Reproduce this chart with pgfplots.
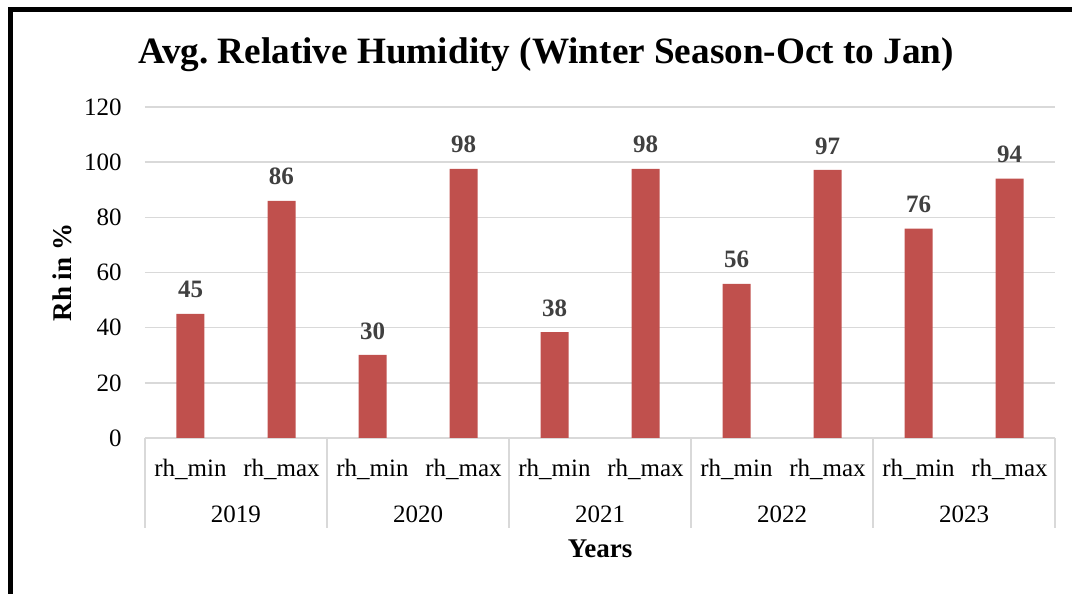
\documentclass[border=0pt]{standalone}
\usepackage{pgfplots}
\pgfplotsset{compat=1.18}
\usepackage{fontspec}
\setmainfont{Liberation Serif}
\definecolor{barred}{HTML}{C0504D}
\definecolor{gridgray}{HTML}{D9D9D9}
\definecolor{lblgray}{HTML}{404040}
\begin{document}
\begin{tikzpicture}
\useasboundingbox (0,0) rectangle (536pt,297pt);
\draw[line width=2.5pt, line join=miter] (5.3pt,-10pt) -- (5.3pt,292pt) -- (560pt,292pt);
\begin{axis}[
  at={(72.5pt,78pt)}, anchor=south west,
  scale only axis, width=455pt, height=165.5pt,
  /pgf/number format/assume math mode=true,
  ybar, bar width=14pt,
  xmin=-0.5, xmax=9.5, ymin=0, ymax=120,
  ytick={0,20,...,120},
  xtick={0,...,9},
  xticklabels={rh\_min,rh\_max,rh\_min,rh\_max,rh\_min,rh\_max,rh\_min,rh\_max,rh\_min,rh\_max},
  axis line style={draw=none},
  major tick length=0pt,
  ymajorgrids, grid style={gridgray, line width=0.75pt},
  ticklabel style={font=\fontsize{12.5}{14}\selectfont, text=black},
  yticklabel style={anchor=east, inner sep=0pt, xshift=-11.5pt},
  xticklabel style={anchor=base, inner sep=0pt, yshift=-19.5pt},
  title={Avg.\ Relative Humidity (Winter Season-Oct to Jan)},
  every axis title/.style={font=\bfseries\fontsize{18.6}{22}\selectfont, at={([xshift=-27pt,yshift=26pt]axis description cs:0.5,1)}, anchor=center},
  xlabel={Years},
  xlabel style={font=\bfseries\fontsize{13.5}{16}\selectfont, at={([yshift=-55.5pt]axis description cs:0.5,0)}, anchor=center},
  ylabel={Rh in \%},
  ylabel style={font=\bfseries\fontsize{13.5}{16}\selectfont, at={([xshift=-41.5pt]axis description cs:0,0.5)}, anchor=center},
  nodes near coords,
  nodes near coords style={font=\bfseries\fontsize{12.5}{14}\selectfont, text=lblgray, anchor=center, yshift=12pt, /pgf/number format/fixed, /pgf/number format/precision=0},
  clip=false,
]
\addplot[fill=barred, draw=none] coordinates {
  (0,45) (1,86) (2,30.1) (3,97.6) (4,38.4) (5,97.6) (6,55.9) (7,97.2) (8,75.9) (9,94)
};
\foreach \s in {-0.5,1.5,3.5,5.5,7.5,9.5} {
  \edef\tmp{\noexpand\draw[gridgray, line width=0.75pt] (axis cs:\s,0) -- ([yshift=-45pt]axis cs:\s,0);}
  \tmp
}
\node[anchor=base, font=\fontsize{12.5}{14}\selectfont] at ([yshift=-42.3pt]axis cs:0.5,0) {2019};
\node[anchor=base, font=\fontsize{12.5}{14}\selectfont] at ([yshift=-42.3pt]axis cs:2.5,0) {2020};
\node[anchor=base, font=\fontsize{12.5}{14}\selectfont] at ([yshift=-42.3pt]axis cs:4.5,0) {2021};
\node[anchor=base, font=\fontsize{12.5}{14}\selectfont] at ([yshift=-42.3pt]axis cs:6.5,0) {2022};
\node[anchor=base, font=\fontsize{12.5}{14}\selectfont] at ([yshift=-42.3pt]axis cs:8.5,0) {2023};
\end{axis}
\end{tikzpicture}
\end{document}
